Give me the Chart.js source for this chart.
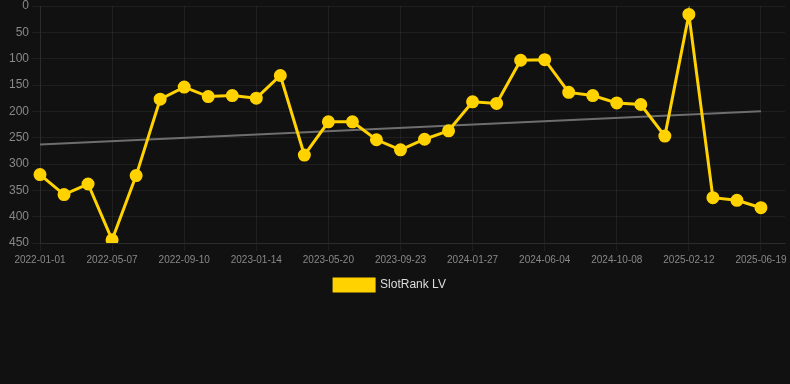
<!DOCTYPE html>
<html>
<head>
<meta charset="utf-8">
<script src="https://cdn.jsdelivr.net/npm/chart.js@4.4.1/dist/chart.umd.min.js"></script>
<style>
  html, body { margin: 0; padding: 0; background: #111111; }
  #wrap { width: 790px; height: 301px; position: relative; }
</style>
</head>
<body>
<div id="wrap"><canvas id="c"></canvas></div>
<script>
const categories = [
  '2022-01-01','2022-02-12','2022-03-26','2022-05-07','2022-06-18','2022-07-30',
  '2022-09-10','2022-10-22','2022-12-03','2023-01-14','2023-02-25','2023-04-08',
  '2023-05-20','2023-07-01','2023-08-12','2023-09-23','2023-11-04','2023-12-16',
  '2024-01-27','2024-03-10','2024-04-22','2024-06-04','2024-07-16','2024-08-27',
  '2024-10-08','2024-11-19','2024-12-31','2025-02-12','2025-03-26','2025-05-07',
  '2025-06-19','2025-07-31'
];
const rankValues = [
  320, 358, 338, 444, 322, 177, 154, 172, 170, 175, 132, 283,
  220, 220, 254, 273, 253, 237, 182, 185, 103, 102, 164, 170,
  184, 187, 247, 16, 364, 369, 383
];
const trendStart = 263;
const trendEnd = 200;
const yTicks = [0, 50, 100, 150, 200, 250, 300, 350, 400, 450];

const trendValues = categories.map(() => null);
trendValues[0] = trendStart;
trendValues[rankValues.length - 1] = trendEnd;

const legendShift = {
  id: 'legendShift',
  afterLayout(chart) {
    if (chart.legend) {
      chart.legend.left -= 5;
      chart.legend.right -= 5;
    }
  }
};

new Chart(document.getElementById('c'), {
  type: 'line',
  data: {
    labels: categories,
    datasets: [
      {
        label: 'SlotRank LV',
        data: rankValues,
        borderColor: '#ffd200',
        backgroundColor: '#ffd200',
        borderWidth: 3,
        pointRadius: 5,
        pointHoverRadius: 5,
        pointBackgroundColor: '#ffd200',
        pointBorderColor: '#ffd200',
        tension: 0,
        order: 1
      },
      {
        label: 'trend',
        data: trendValues,
        borderColor: '#6e6e6e',
        backgroundColor: '#6e6e6e',
        borderWidth: 2,
        pointRadius: 0,
        spanGaps: true,
        tension: 0,
        order: 2
      }
    ]
  },
  plugins: [legendShift],
  options: {
    responsive: true,
    maintainAspectRatio: false,
    animation: false,
    layout: { autoPadding: false },
    plugins: {
      legend: {
        position: 'bottom',
        labels: {
          color: '#dddddd',
          boxWidth: 40,
          font: { size: 12, family: 'Liberation Sans, Arial, sans-serif' },
          filter: (item) => item.text !== 'trend'
        }
      },
      tooltip: { enabled: false }
    },
    scales: {
      x: {
        afterFit: (axis) => { axis.paddingLeft = 0; axis.paddingRight = 5; },
        grid: { color: 'rgba(255,255,255,0.06)' },
        border: { color: 'rgba(255,255,255,0.06)' },
        ticks: {
          color: '#888888',
          maxRotation: 0,
          autoSkip: true,
          font: { size: 10, family: 'Liberation Sans, Arial, sans-serif' }
        }
      },
      y: {
        reverse: true,
        min: 0,
        max: 450,
        afterBuildTicks: (axis) => { axis.ticks = yTicks.map(v => ({ value: v })); },
        afterFit: (axis) => { axis.width = 40; axis.paddingTop = 6; axis.paddingBottom = 0; },
        grid: { color: 'rgba(255,255,255,0.06)' },
        border: { color: 'rgba(255,255,255,0.06)' },
        ticks: {
          color: '#888888',
          font: { size: 12, family: 'Liberation Sans, Arial, sans-serif' }
        }
      }
    }
  }
});
</script>
</body>
</html>
